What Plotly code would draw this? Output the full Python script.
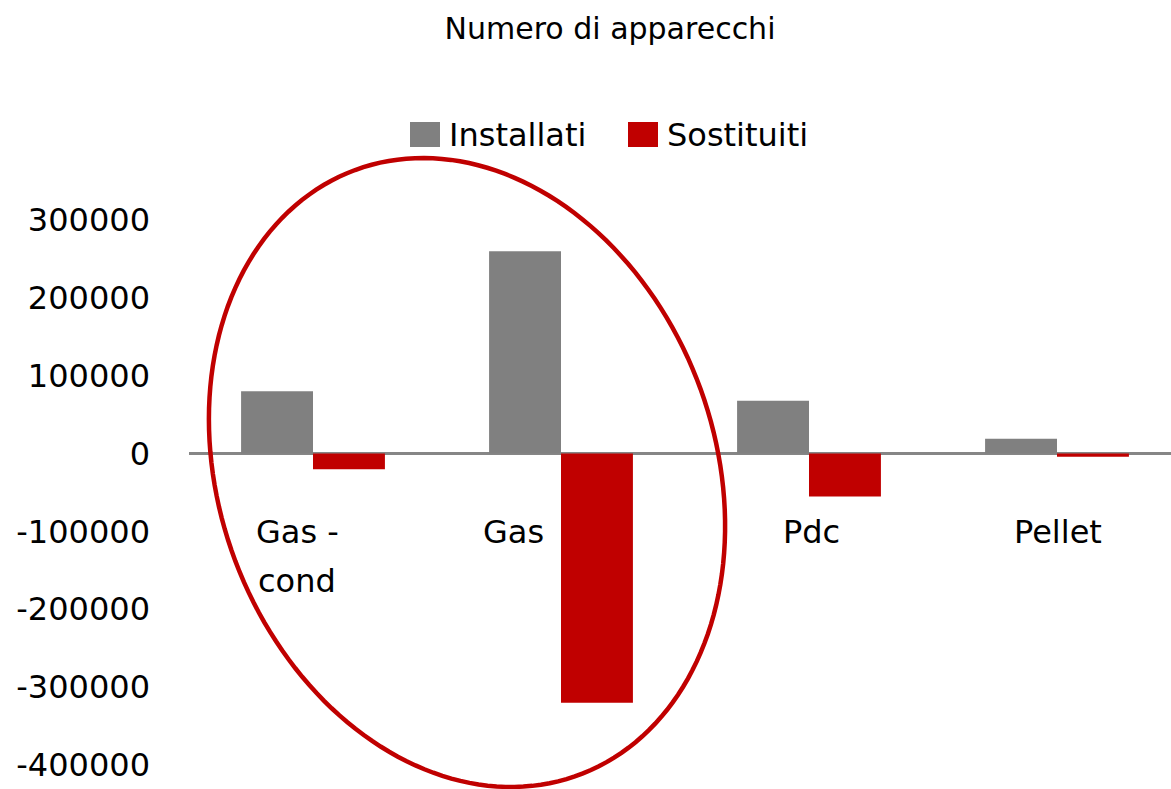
import numpy as np
import plotly.graph_objects as go

# ---- data ----
categories = ["Gas - cond", "Gas", "Pdc", "Pellet"]
label_lines = [["Gas -", "cond"], ["Gas"], ["Pdc"], ["Pellet"]]
installati = [80000, 260000, 68000, 19000]
sostituiti = [-20000, -320000, -55000, -4000]
series_names = ["Installati", "Sostituiti"]
series_colors = ["#808080", "#C00000"]
tick_vals = [-400000, -300000, -200000, -100000, 0, 100000, 200000, 300000]
tick_text = ["-400000", "-300000", "-200000", "-100000", "0", "100000", "200000", "300000"]
title_text = "Numero di apparecchi"

# ---- layout geometry (pixels) ----
W, H = 1171, 789
L, R, T, B = 189, 0, 220, 24
PW, PH = W - L - R, H - T - B
FONT = "DejaVu Sans"


def to_paper(px, py):
    return (px - L) / PW, (H - B - py) / PH


fig = go.Figure()
for name, vals, col in zip(series_names, [installati, sostituiti], series_colors):
    fig.add_trace(go.Bar(x=categories, y=vals, name=name, marker=dict(color=col, line=dict(width=0)),
                         showlegend=False))

shapes = []
annotations = []

# custom legend (big square swatches like the original)
legend_sw_x = [410, 628]
legend_txt_x = [447, 665]
for name, col, sx, tx in zip(series_names, series_colors, legend_sw_x, legend_txt_x):
    x0, y0 = to_paper(sx, 147)
    x1, y1 = to_paper(sx + 30, 122)
    shapes.append(dict(type="rect", xref="paper", yref="paper", x0=x0, y0=y0, x1=x1, y1=y1,
                       fillcolor=col, line=dict(width=0)))
    ax, ay = to_paper(tx, 135)
    annotations.append(dict(text=name, xref="paper", yref="paper", x=ax, y=ay, xanchor="left",
                            yanchor="middle", showarrow=False, font=dict(family=FONT, size=32, color="black")))

# category labels placed inside the plot under the zero line
label_shift = [-16, -48, 2, 1]
for i, (lines, sh) in enumerate(zip(label_lines, label_shift)):
    for j, line in enumerate(lines):
        _, ly = to_paper(0, 532 + 49 * j)
        annotations.append(dict(text=line, xref="x", yref="paper", x=i, y=ly, xshift=sh,
                                xanchor="center", yanchor="middle", showarrow=False,
                                font=dict(family=FONT, size=32, color="black")))

# tilted ellipse highlight
cx, cy, a, b, phi = 467, 472.5, 322.5, 248, np.deg2rad(20.3)
t = np.linspace(0, 2 * np.pi, 180)
ux, uy = -np.sin(phi), -np.cos(phi)
vx, vy = np.cos(phi), -np.sin(phi)
pxs = cx + a * np.cos(t) * ux + b * np.sin(t) * vx
pys = cy + a * np.cos(t) * uy + b * np.sin(t) * vy
pts = [to_paper(px, py) for px, py in zip(pxs, pys)]
path = "M " + " L ".join(f"{x:.5f},{y:.5f}" for x, y in pts) + " Z"
shapes.append(dict(type="path", xref="paper", yref="paper", path=path,
                   line=dict(color="#C00000", width=4.5), fillcolor="rgba(0,0,0,0)", layer="above"))

fig.update_layout(
    width=W, height=H,
    margin=dict(l=L, r=R, t=T, b=B, pad=0),
    paper_bgcolor="white", plot_bgcolor="white",
    barmode="group", bargap=0.42, bargroupgap=0,
    title=dict(text=title_text, x=610 / W, xanchor="center", y=1 - 28 / H, yanchor="middle",
               font=dict(family=FONT, size=30, color="black")),
    xaxis=dict(range=[-0.5, (W - 313) / 248], showticklabels=False, showline=False,
               showgrid=False, ticks="", zeroline=False),
    yaxis=dict(range=[-400000, 300000], tickmode="array", tickvals=tick_vals, ticktext=tick_text,
               showgrid=False, showline=False, ticks="", zeroline=True, zerolinecolor="#868686",
               zerolinewidth=3, ticklabelstandoff=38,
               tickfont=dict(family=FONT, size=32, color="black")),
    shapes=shapes, annotations=annotations,
    font=dict(family=FONT),
)

fig.write_html("out.html", config={"displayModeBar": False},
               post_script="document.body.style.margin='0px';document.body.style.overflow='hidden';")
